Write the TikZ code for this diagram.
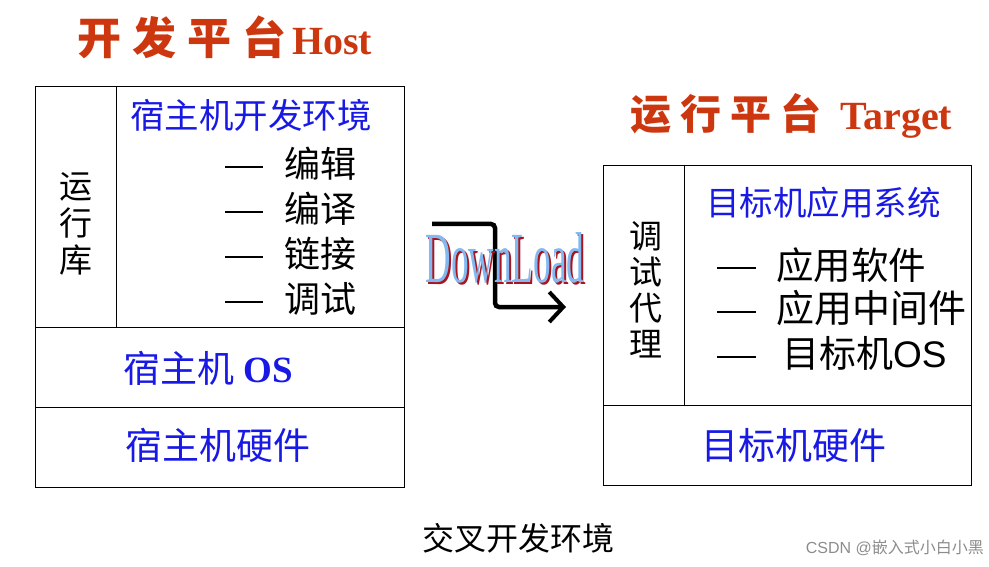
\documentclass[tikz,border=0pt]{standalone}
\usepackage{fontspec}
\setmainfont{Liberation Serif}
\setsansfont{Liberation Sans}
\newfontfamily\cjk{Noto Sans CJK SC}
\usetikzlibrary{arrows.meta}
\definecolor{titlered}{RGB}{205,55,15}
\definecolor{txtblue}{RGB}{25,25,230}
\definecolor{dlblue}{RGB}{130,185,240}
\definecolor{dlred}{RGB}{170,20,30}
\newcommand{\tcA}[1]{\makebox[55pt]{#1}}
\newcommand{\tcB}[1]{\makebox[50pt]{#1}}
\newcommand{\dltext}{\scalebox{0.49}[1]{\fontsize{72}{72}\selectfont DownLoad}}
\begin{document}
\begin{tikzpicture}[x=1pt,y=-1pt,
  frame/.style={draw=black,line width=1pt},
  bluetxt/.style={text=txtblue,inner sep=0pt,font=\cjk\fontsize{35}{40}\selectfont},
  blktxt/.style={text=black,inner sep=0pt,font=\cjk\fontsize{36}{40}\selectfont},
  vert/.style={text=black,inner sep=0pt,align=center,font=\cjk\fontsize{33}{37}\selectfont},
  dashline/.style={line width=1.2pt},
  title/.style={text=titlered,inner sep=0pt,anchor=west}]
\useasboundingbox (0,0) rectangle (989,567);
% Host frame
\draw[frame] (35,87) rectangle (404,487);
\draw[frame] (116,87) -- (116,327);
\draw[frame] (35,327) -- (404,327);
\draw[frame] (35,407) -- (404,407);
% Target frame
\draw[frame] (603,166) rectangle (971,485);
\draw[frame] (684,166) -- (684,405);
\draw[frame] (603,405) -- (971,405);
% titles
\node[title] (host) at (72,37) {{\cjk\bfseries\fontsize{44}{48}\selectfont\tcA{开}\tcA{发}\tcA{平}\tcA{台}}{\fontsize{40}{44}\selectfont\bfseries Host}};
\node[title] (target) at (626,116) {{\cjk\bfseries\fontsize{41}{46}\selectfont\tcB{运}\tcB{行}\tcB{平}\tcB{台}}\hspace{14pt}{\fontsize{40}{44}\selectfont\bfseries Target}};
% host contents
\node[vert] (yxk) at (76,224) {运\\行\\库};
\node[bluetxt,anchor=west,font=\cjk\fontsize{34.5}{38}\selectfont] (hdev) at (130,115) {宿主机开发环境};
\foreach \t/\y [count=\i] in {编辑/164,编译/209,链接/254,调试/299}{
  \node[blktxt,anchor=west] (h\i) at (284,\y) {\t};
  \coordinate (hd\i a) at (225,\y+3);
  \coordinate (hd\i b) at (263,\y+3);
  \draw[dashline] (hd\i a) -- (hd\i b);
}
\node[bluetxt,anchor=west,font=\fontsize{37}{40}\selectfont] (hos) at (123,368) {{\cjk 宿主机} \bfseries OS};
\node[bluetxt,font=\cjk\fontsize{37}{40}\selectfont] (hhw) at (218,445) {宿主机硬件};
% target contents
\node[vert,font=\cjk\fontsize{33}{36}\selectfont] (tsdl) at (646,290) {调\\试\\代\\理};
\node[bluetxt,anchor=west,font=\cjk\fontsize{33.5}{38}\selectfont] (tapp) at (706,203) {目标机应用系统};
\node[blktxt,anchor=west,font=\cjk\fontsize{37.5}{40}\selectfont] (t1) at (776,265) {应用软件};
\node[blktxt,anchor=west,font=\cjk\fontsize{38}{40}\selectfont] (t2) at (776,308) {应用中间件};
\node[blktxt,anchor=west,font=\fontsize{37}{40}\selectfont] (t3) at (782,353) {{\cjk 目标机}\sffamily OS};
\foreach \y [count=\i] in {268,312,357}{
  \coordinate (td\i a) at (717,\y);
  \coordinate (td\i b) at (756,\y);
  \draw[dashline] (td\i a) -- (td\i b);
}
\node[bluetxt,font=\cjk\fontsize{37}{40}\selectfont] (thw) at (794,445) {目标机硬件};
% download arrow
\coordinate (da) at (432,224);
\coordinate (db) at (495,224);
\coordinate (dc) at (495,307);
\coordinate (dd) at (566,307);
\draw[line width=4.5pt,rounded corners=4pt,-{Straight Barb[length=14pt,width=30pt,line width=4pt]}] (da) -- (db) -- (dc) -- (dd);
\node[inner sep=0pt] (dl) at (505,259) {\rlap{\kern2pt\raisebox{-2pt}{\textcolor{dlred}{\dltext}}}\textcolor{dlblue}{\dltext}};
% caption
\node[inner sep=0pt,font=\cjk\fontsize{32}{36}\selectfont] (cap) at (518,538) {交叉开发环境};
\node[inner sep=0pt,anchor=east,text=black!45,font=\fontsize{16}{18}\selectfont] (wm) at (984,548) {\sffamily CSDN @{\cjk 嵌入式小白小黑}};
\end{tikzpicture}
\end{document}
